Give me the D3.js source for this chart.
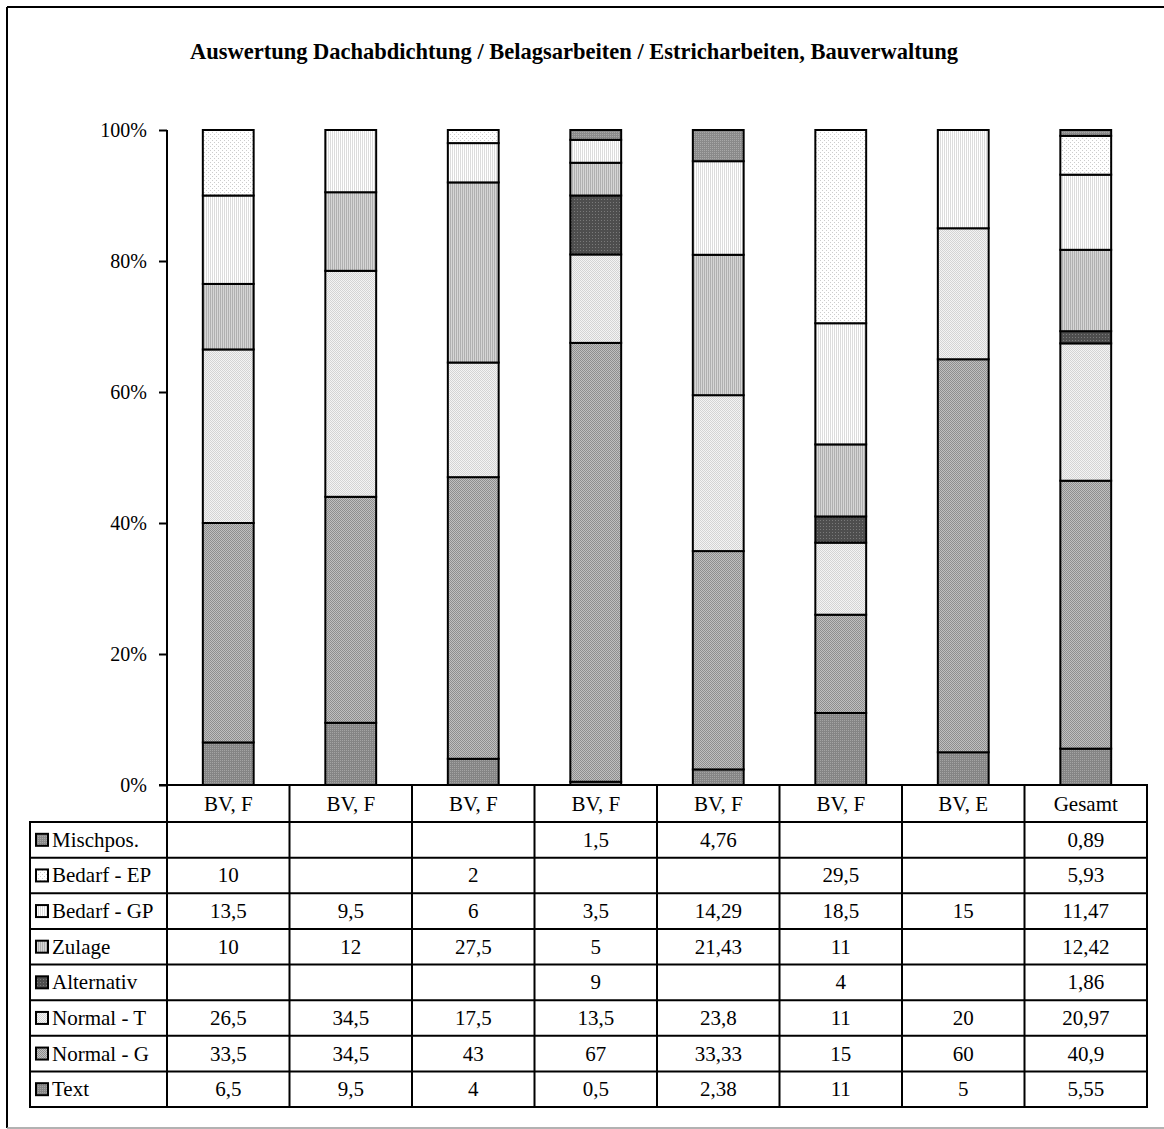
<!DOCTYPE html>
<html>
<head>
<meta charset="utf-8">
<script src="https://cdn.jsdelivr.net/npm/d3@7"></script>
<style>
  html, body { margin: 0; padding: 0; background: #fff; }
  svg { display: block; font-family: "Liberation Serif", "Times New Roman", serif; }
</style>
</head>
<body>
<svg id="chart" width="1164" height="1129"></svg>
<script>
// Columns (building projects) and the share of each position type per column
const categories = ["BV, F", "BV, F", "BV, F", "BV, F", "BV, F", "BV, F", "BV, E", "Gesamt"];

// Series, listed from the bottom of the stack upwards
const seriesNames = ["Text", "Normal - G", "Normal - T", "Alternativ", "Zulage", "Bedarf - GP", "Bedarf - EP", "Mischpos."];

const textVals      = [6.5, 9.5, 4, 0.5, 2.38, 11, 5, 5.55];
const normalGVals   = [33.5, 34.5, 43, 67, 33.33, 15, 60, 40.9];
const normalTVals   = [26.5, 34.5, 17.5, 13.5, 23.8, 11, 20, 20.97];
const alternativVals= [null, null, null, 9, null, 4, null, 1.86];
const zulageVals    = [10, 12, 27.5, 5, 21.43, 11, null, 12.42];
const bedarfGPVals  = [13.5, 9.5, 6, 3.5, 14.29, 18.5, 15, 11.47];
const bedarfEPVals  = [10, null, 2, null, null, 29.5, null, 5.93];
const mischposVals  = [null, null, null, 1.5, 4.76, null, null, 0.89];

const seriesValues = [textVals, normalGVals, normalTVals, alternativVals, zulageVals, bedarfGPVals, bedarfEPVals, mischposVals];

const yTicks = [0, 0.2, 0.4, 0.6, 0.8, 1];

const svg = d3.select("#chart");

// ---- fill patterns (print-style dotted / striped greys) ----
const defs = svg.append("defs");
function pattern(id, size, bg, cells) {
  const p = defs.append("pattern").attr("id", id)
    .attr("patternUnits", "userSpaceOnUse").attr("width", size).attr("height", size);
  p.append("rect").attr("width", size).attr("height", size).attr("fill", bg);
  cells.forEach(([x, y, w, h, c]) => p.append("rect").attr("x", x).attr("y", y).attr("width", w).attr("height", h).attr("fill", c));
}
pattern("p-text", 2, "#858585", [[0, 0, 1, 1, "#a4a4a4"]]);
pattern("p-normg", 2, "#c0c0c0", [[0, 0, 1, 1, "#8e8e8e"], [1, 1, 1, 1, "#8e8e8e"]]);
pattern("p-normt", 2, "#f4f4f4", [[0, 0, 1, 1, "#d4d4d4"], [1, 1, 1, 1, "#d4d4d4"]]);
pattern("p-alt", 3, "#4e4e4e", [[1, 1, 1, 1, "#7a7a7a"]]);
pattern("p-zulage", 2, "#d6d6d6", [[0, 0, 1, 2, "#b0b0b0"]]);
pattern("p-bgp", 2, "#ffffff", [[0, 0, 1, 2, "#dcdcdc"]]);
pattern("p-bep", 4, "#ffffff", [[0, 0, 1, 1, "#cccccc"], [2, 2, 1, 1, "#cccccc"]]);
pattern("p-misch", 2, "#8a8a8a", [[0, 0, 1, 1, "#a8a8a8"]]);
const fills = ["url(#p-text)", "url(#p-normg)", "url(#p-normt)", "url(#p-alt)", "url(#p-zulage)", "url(#p-bgp)", "url(#p-bep)", "url(#p-misch)"];

// ---- frame ----
svg.append("line").attr("x1", 7).attr("y1", 7).attr("x2", 1164).attr("y2", 7).attr("stroke", "#000").attr("stroke-width", 2);
svg.append("line").attr("x1", 7).attr("y1", 7).attr("x2", 7).attr("y2", 1128).attr("stroke", "#000").attr("stroke-width", 2);
svg.append("line").attr("x1", 7).attr("y1", 1128).attr("x2", 1164).attr("y2", 1128).attr("stroke", "#999").attr("stroke-width", 1.5);

// ---- title ----
svg.append("text").attr("x", 574).attr("y", 59).attr("text-anchor", "middle")
  .attr("font-size", 22.5).attr("font-weight", "bold")
  .text("Auswertung Dachabdichtung / Belagsarbeiten / Estricharbeiten, Bauverwaltung");

// ---- scales ----
const plotLeft = 167, plotRight = 1147, plotTop = 130, plotBottom = 785;
const x = d3.scaleBand().domain(d3.range(categories.length)).range([plotLeft, plotRight]).padding(0);
const y = d3.scaleLinear().domain([0, 1]).range([plotBottom, plotTop]);
const barW = x.bandwidth() * 0.415;

// ---- stacked data, normalised to 100% ----
const rows = categories.map((c, i) => {
  const r = { idx: i };
  seriesNames.forEach((s, k) => r[s] = seriesValues[k][i] || 0);
  return r;
});
const stacked = d3.stack().keys(seriesNames).offset(d3.stackOffsetExpand)(rows);

const bars = svg.append("g");
stacked.forEach((layer, k) => {
  bars.selectAll(null).data(layer.filter(d => d[1] - d[0] > 0)).join("rect")
    .attr("x", d => x(d.data.idx) + (x.bandwidth() - barW) / 2)
    .attr("y", d => y(d[1]))
    .attr("width", barW)
    .attr("height", d => y(d[0]) - y(d[1]))
    .attr("fill", fills[k])
    .attr("stroke", "#000").attr("stroke-width", 2);
});

// ---- y axis ----
const yAxis = svg.append("g").attr("transform", `translate(${plotLeft},0)`)
  .call(d3.axisLeft(y).tickValues(yTicks).tickFormat(d3.format(".0%")).tickSize(8).tickPadding(12));
yAxis.select(".domain").remove();
yAxis.selectAll("line").attr("stroke", "#000").attr("stroke-width", 2);
yAxis.selectAll("text").attr("font-size", 20).attr("font-family", "Liberation Serif, serif").attr("fill", "#000");
svg.append("line").attr("x1", plotLeft).attr("x2", plotLeft).attr("y1", plotTop).attr("y2", 1108)
  .attr("stroke", "#000").attr("stroke-width", 2);

// ---- data table ----
const tableLeft = 30, headTop = plotBottom, headBottom = 822, tableBottom = 1107;
const rowH = (tableBottom - headBottom) / seriesNames.length;
const tableOrder = seriesNames.slice().reverse(); // top row = top of stack
const fmt = v => String(v).replace(".", ",");
const fs = 21;

const tbl = svg.append("g");
// header
tbl.append("line").attr("x1", 159).attr("x2", plotRight).attr("y1", headTop).attr("y2", headTop).attr("stroke", "#000").attr("stroke-width", 2);
tbl.selectAll(null).data(categories).join("text")
  .attr("x", (d, i) => x(i) + x.bandwidth() / 2).attr("y", (headTop + headBottom) / 2 + 7)
  .attr("text-anchor", "middle").attr("font-size", fs).text(d => d);
// horizontal row lines
d3.range(seriesNames.length + 1).forEach(r => {
  const yy = headBottom + r * rowH;
  tbl.append("line").attr("x1", tableLeft).attr("x2", plotRight).attr("y1", yy).attr("y2", yy)
    .attr("stroke", "#000").attr("stroke-width", 2);
});
// vertical lines
tbl.append("line").attr("x1", tableLeft).attr("x2", tableLeft).attr("y1", headBottom - 1).attr("y2", tableBottom + 1).attr("stroke", "#000").attr("stroke-width", 2);
d3.range(1, categories.length + 1).forEach(i => {
  const xx = plotLeft + i * x.bandwidth();
  tbl.append("line").attr("x1", xx).attr("x2", xx).attr("y1", headTop - 1).attr("y2", tableBottom + 1)
    .attr("stroke", "#000").attr("stroke-width", 2);
});
// rows: legend key, label, values
tableOrder.forEach((name, r) => {
  const k = seriesNames.indexOf(name);
  const cy = headBottom + r * rowH + rowH / 2;
  tbl.append("rect").attr("x", tableLeft + 6).attr("y", cy - 6).attr("width", 12).attr("height", 12)
    .attr("fill", fills[k]).attr("stroke", "#000").attr("stroke-width", 2);
  tbl.append("text").attr("x", tableLeft + 22).attr("y", cy + 7).attr("font-size", fs).text(name);
  seriesValues[k].forEach((v, i) => {
    if (v == null) return;
    tbl.append("text").attr("x", x(i) + x.bandwidth() / 2).attr("y", cy + 7)
      .attr("text-anchor", "middle").attr("font-size", fs).text(fmt(v));
  });
});
</script>
</body>
</html>
